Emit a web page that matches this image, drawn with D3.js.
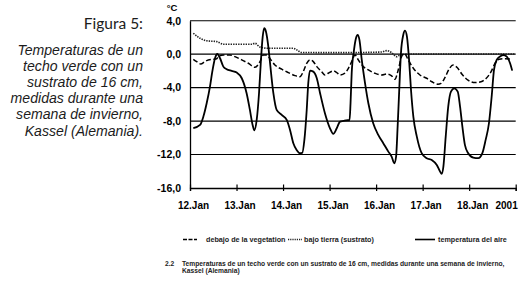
<!DOCTYPE html>
<html>
<head>
<meta charset="utf-8">
<script src="https://cdn.jsdelivr.net/npm/d3@7"></script>
<style>
  body { margin: 0; background: #fff; }
  svg { display: block; }
</style>
</head>
<body>
<svg id="chart" width="532" height="290"></svg>
<script>
// hours since 12.Jan 00:00, value in °C
let airTemp = [
    [1.7, -8.85], [5.2, -8.46], [6.9, -7.46], [8.6, -5.87], [10.3, -3.88], [11.5, -2.09],
    [12.9, -0.49], [14.1, 0.02], [15.5, -0.49], [17.2, -1.49], [18.9, -1.8], [21.5, -2.0],
    [24.1, -2.2], [26.7, -2.88], [29.2, -4.67], [30.9, -6.67], [32.3, -8.46], [33.2, -9.1],
    [34.4, -7.86], [35.6, -4.67], [36.6, -0.7], [37.5, 2.09], [38.3, 3.1], [39.2, 2.69],
    [40.4, 0.9], [41.3, -1.09], [43.0, -4.67], [44.7, -6.67], [47.3, -7.26], [49.9, -7.86],
    [51.6, -9.06], [53.3, -10.65], [55.0, -11.45], [56.7, -11.84], [57.9, -11.8], [59.0, -10.25],
    [60.2, -6.67], [61.0, -3.48], [61.9, -1.97], [63.6, -2.09], [65.4, -2.88], [67.1, -4.67],
    [69.6, -7.06], [72.2, -8.86], [73.9, -9.53], [75.7, -8.86], [77.4, -8.06], [79.1, -7.98],
    [81.3, -7.9], [82.3, -7.9], [82.8, -5.9], [83.4, -2.28], [84.6, 0.5], [85.6, 1.9],
    [86.5, 2.29], [87.4, 1.7], [88.6, -0.69], [90.3, -3.48], [92.0, -5.87], [94.5, -8.26],
    [97.1, -9.65], [99.7, -10.65], [102.3, -11.65], [104.0, -12.25], [105.4, -13.04], [106.3, -12.25],
    [107.1, -8.66], [108.0, -3.88], [108.8, 0.1], [110.0, 2.29], [110.9, 2.81], [111.9, 2.09],
    [113.0, -0.69], [114.0, -4.28], [115.2, -7.46], [117.0, -9.86], [119.5, -11.84], [122.1, -12.44],
    [124.7, -12.64], [127.3, -13.24], [129.0, -14.04], [129.8, -14.3], [130.7, -13.44], [131.9, -9.86],
    [133.2, -6.27], [134.6, -4.48], [136.3, -4.08], [138.1, -4.48], [139.3, -6.27], [140.5, -8.66],
    [141.8, -10.85], [143.5, -11.84], [146.1, -12.37], [148.7, -12.44], [150.8, -11.84], [152.5, -10.25],
    [154.2, -8.26], [155.6, -5.08], [156.8, -1.89], [158.2, -0.69], [159.9, -0.29], [161.6, -0.1],
    [163.4, -0.3], [165.1, -1.09], [166.2, -1.97]
];

let vegetationTemp = [
    [1.7, -0.61], [3.5, -0.89], [5.5, -1.17], [7.7, -0.89], [9.4, -0.69], [12.0, -0.61],
    [13.8, -0.55], [14.6, -0.3], [17.2, -0.1], [20.6, -0.1], [23.2, -0.3], [26.7, -0.69],
    [30.1, -1.09], [33.5, -1.57], [36.1, -0.89], [37.8, -0.1], [39.6, -0.1], [41.3, -0.55],
    [43.8, -1.29], [47.3, -1.8], [50.7, -2.2], [54.2, -2.57], [56.7, -2.69], [58.4, -2.09],
    [60.2, -1.09], [61.9, -0.69], [63.6, -0.89], [65.4, -1.49], [67.9, -2.09], [69.6, -2.49],
    [71.3, -2.28], [73.9, -2.0], [75.7, -2.2], [77.4, -2.49], [79.9, -2.28], [81.7, -1.69],
    [83.4, -0.89], [85.1, -0.1], [86.8, -0.69], [89.4, -1.49], [92.0, -1.89], [95.4, -2.28],
    [98.9, -2.49], [101.5, -2.37], [104.0, -2.6], [105.7, -3.0], [107.4, -1.89], [109.1, -0.3],
    [110.5, 0.1], [112.6, -0.69], [115.2, -1.69], [118.6, -2.49], [122.1, -2.88], [124.8, -3.3],
    [127.9, -3.6], [129.5, -3.5], [131.5, -2.8], [133.6, -1.8], [135.7, -1.3], [137.8, -1.6],
    [140.3, -2.4], [143.4, -3.1], [147.0, -3.4], [150.1, -3.3], [152.7, -2.9], [155.3, -2.1],
    [157.3, -1.1], [159.4, -0.6], [162.5, -0.55], [165.6, -0.6]
];

let substrateTemp = [
    [1.7, 2.5], [5.2, 1.9], [8.6, 1.6], [13.8, 1.5], [17.2, 1.18], [23.2, 1.18],
    [31.8, 1.18], [33.5, 1.3], [36.1, 0.85], [40.4, 0.7], [53.3, 0.7], [55.2, 0.5],
    [57.6, 0.2], [79.9, 0.18], [98.9, 0.26], [101.5, 0.42], [104.0, 0.18], [106.6, -0.3],
    [108.3, -0.1], [111.8, 0.0], [167.6, 0.0]
];

let dayLabels = ["12.Jan", "13.Jan", "14.Jan", "15.Jan", "16.Jan", "17.Jan", "18.Jan", "2001"];
let yTicks = [4, 0, -4, -8, -12, -16];

let seriesNames = ["debajo de la vegetation", "bajo tierra (sustrato)", "temperatura del aire"];

let titleLines = ["Temperaturas de un", "techo verde con un", "sustrato de 16 cm,",
    "medidas durante una", "semana de invierno,", "Kassel (Alemania)."];

let captionLines = ["Temperaturas de un techo verde con un sustrato de 16 cm, medidas durante una semana de invierno,",
    "Kassel (Alemania)"];

let svg = d3.select("#chart");

let x = d3.scaleLinear().domain([0, 168]).range([190, 515.7]);
let y = d3.scaleLinear().domain([-16, 4]).range([188, 20.7]);

// side title
let side = svg.append("g").attr("fill", "#1c1c1c");
side.append("text")
    .attr("x", 143).attr("y", 28.5)
    .attr("text-anchor", "end")
    .attr("font-family", "Lato, 'Open Sans', sans-serif")
    .attr("font-size", 15.5)
    .text("Figura 5:");
side.selectAll("text.line")
    .data(titleLines)
    .enter().append("text")
    .attr("class", "line")
    .attr("x", 143)
    .attr("y", (d, i) => 54.5 + i * 16.2)
    .attr("text-anchor", "end")
    .attr("font-family", "'Liberation Sans', Arial, sans-serif")
    .attr("font-size", 14.1)
    .attr("font-style", "italic")
    .text(d => d);

// grid
svg.selectAll("line.grid")
    .data(yTicks.filter(v => v > -16))
    .enter().append("line")
    .attr("class", "grid")
    .attr("x1", x(0)).attr("x2", x(168))
    .attr("y1", d => y(d)).attr("y2", d => y(d))
    .attr("stroke", "#000").attr("stroke-width", 1.1);

// y axis
let yAxis = d3.axisLeft(y).tickValues(yTicks).tickSize(0).tickPadding(9)
    .tickFormat(d => d3.format(".1f")(d).replace(".", ",").replace("−", "-"));
let gy = svg.append("g").attr("transform", "translate(" + x(0) + ",0)").call(yAxis);
gy.select(".domain").attr("stroke", "#000").attr("stroke-width", 1.3);
gy.selectAll("text")
    .attr("font-family", "Arial, 'Liberation Sans', sans-serif")
    .attr("font-weight", "bold").attr("font-size", 10.5).attr("fill", "#000");

svg.append("text")
    .attr("x", 172).attr("y", 11)
    .attr("text-anchor", "middle")
    .attr("font-family", "Arial, 'Liberation Sans', sans-serif")
    .attr("font-weight", "bold").attr("font-size", 9.5)
    .text("°C");

// x axis
let xAxis = d3.axisBottom(x).tickValues(d3.range(0, 169, 24)).tickSize(3).tickPadding(11)
    .tickFormat((d, i) => dayLabels[i]);
let gx = svg.append("g").attr("transform", "translate(0," + y(-16) + ")").call(xAxis);
gx.select(".domain").attr("stroke", "#000").attr("stroke-width", 1.3);
gx.selectAll(".tick line").attr("y1", -3.5).attr("stroke", "#000").attr("stroke-width", 1.2);
gx.selectAll("text")
    .attr("font-family", "Arial, 'Liberation Sans', sans-serif")
    .attr("font-weight", "bold").attr("font-size", 10).attr("fill", "#000")
    .attr("dx", 3);
gx.selectAll(".tick").filter((d, i) => i === 7).select("text")
    .attr("text-anchor", "end").attr("dx", 1.5);

// lines
let line = d3.line()
    .x(d => x(d[0]))
    .y(d => y(d[1]))
    .curve(d3.curveMonotoneX);

svg.append("path").datum(substrateTemp)
    .attr("d", line).attr("fill", "none")
    .attr("stroke", "#222").attr("stroke-width", 1.6).attr("stroke-dasharray", "1.4,1.1");

svg.append("path").datum(vegetationTemp)
    .attr("d", line).attr("fill", "none")
    .attr("stroke", "#000").attr("stroke-width", 1.5).attr("stroke-dasharray", "5,2.5");

svg.append("path").datum(airTemp)
    .attr("d", line).attr("fill", "none")
    .attr("stroke", "#000").attr("stroke-width", 1.8).attr("stroke-linejoin", "round");

// legend
let legendItems = [
    {x1: 183, x2: 197, tx: 206, dash: "4,1.5", stroke: "#000", w: 1.6},
    {x1: 288, x2: 302, tx: 304, dash: "1.2,1", stroke: "#222", w: 1.4},
    {x1: 415, x2: 435, tx: 438, dash: null, stroke: "#000", w: 1.6}
];
let legend = svg.append("g")
    .attr("font-family", "Arial, 'Liberation Sans', sans-serif")
    .attr("font-weight", "bold").attr("font-size", 7.2).attr("fill", "#222");
legendItems.forEach((d, i) => {
    legend.append("line")
        .attr("x1", d.x1).attr("x2", d.x2).attr("y1", 239.5).attr("y2", 239.5)
        .attr("stroke", d.stroke).attr("stroke-width", d.w)
        .attr("stroke-dasharray", d.dash);
    legend.append("text")
        .attr("x", d.tx).attr("y", 242)
        .text(seriesNames[i]);
});

// caption
let cap = svg.append("g")
    .attr("font-family", "Arial, 'Liberation Sans', sans-serif")
    .attr("font-weight", "bold").attr("font-size", 6.7).attr("fill", "#222");
cap.append("text").attr("x", 165).attr("y", 265.5).text("2.2");
cap.selectAll("text.cl")
    .data(captionLines)
    .enter().append("text")
    .attr("class", "cl")
    .attr("x", 182)
    .attr("y", (d, i) => 265.5 + i * 7.5)
    .text(d => d);
</script>
</body>
</html>
